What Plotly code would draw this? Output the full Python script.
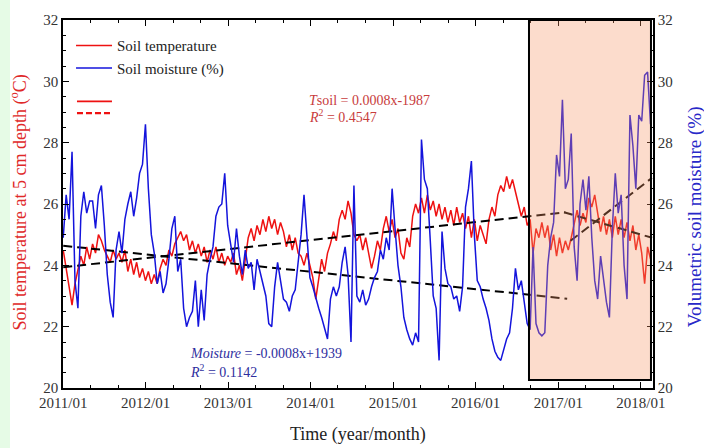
import pandas as pd
import plotly.graph_objects as go

# ---- data -------------------------------------------------------------
START = "2011-01-01"
STEP_DAYS = 13

# soil temperature at 5 cm depth (deg C), one value every STEP_DAYS days
soil_temp = [
    24.5, 23.9, 23.3, 22.7, 23.4, 23.9, 24.3, 24.0, 24.6, 24.2,
    24.7, 24.4, 25.0, 24.8, 24.5, 24.3, 24.1, 24.5, 24.2, 24.4,
    24.1, 24.5, 23.8, 24.2, 23.7, 24.1, 23.6, 23.9, 23.5, 23.8,
    23.4, 23.7, 23.4, 23.9, 24.2, 24.0, 24.5, 24.3, 24.7, 24.9,
    25.1, 24.8, 25.0, 24.5, 24.8, 24.4, 24.7, 24.3, 24.6, 24.1,
    24.5, 24.2, 24.6, 24.1, 24.4, 24.0, 24.3, 24.1, 24.4, 23.7,
    24.0, 23.5, 24.2, 24.9, 25.2, 24.8, 25.3, 25.0, 25.5, 25.1,
    25.6, 25.2, 25.5, 25.0, 25.4, 25.1, 24.6, 25.0, 24.5, 24.9,
    24.4, 24.3, 24.0, 24.4, 24.0, 23.6, 22.9, 23.5, 24.2, 23.8,
    24.4, 24.7, 25.1, 24.8, 25.5, 25.8, 25.5, 26.1, 25.7, 25.0,
    24.8, 25.0, 24.5, 24.9, 24.4, 23.9, 24.3, 24.8, 24.5, 25.2,
    25.6, 25.1, 25.5, 24.9, 25.2, 24.4, 24.2, 24.9, 24.6, 25.6,
    26.0, 25.7, 26.2, 25.7, 26.3, 25.8, 26.1, 25.6, 26.0, 25.5,
    25.9, 25.4, 25.8, 25.3, 25.9, 25.4, 25.7, 25.2, 25.6, 24.9,
    25.5, 24.8, 25.3, 25.0, 24.7, 25.5, 25.9, 25.6, 26.3, 26.6,
    26.4, 26.9, 26.5, 26.8, 26.4, 26.1, 25.6, 25.9, 25.3, 25.5,
    24.4, 25.2, 24.9, 25.4, 24.9, 25.3, 24.5, 25.0, 24.3, 24.9,
    24.4, 24.8, 24.5, 24.9, 25.3, 25.8, 25.3, 25.7, 25.4, 26.2,
    25.9, 26.3, 25.7, 25.1, 25.6, 25.0, 25.5, 24.9, 25.6, 25.0,
    25.5, 24.9, 25.4, 24.8, 25.3, 24.5, 25.0, 24.4, 23.4, 24.6,
    24.2,
]

# volumetric soil moisture (%), same sampling
soil_moist = [
    24.9, 26.3, 25.5, 27.7, 23.5, 22.6, 25.6, 26.4, 25.7, 26.1,
    26.1, 25.2, 26.3, 26.6, 25.3, 23.7, 22.8, 22.3, 24.5, 25.1,
    24.4, 25.5, 26.0, 26.4, 25.6, 26.2, 27.0, 27.3, 28.6, 26.5,
    25.0, 24.4, 23.4, 23.8, 23.1, 23.4, 24.2, 25.2, 25.6, 23.8,
    24.2, 22.6, 22.0, 22.3, 22.5, 23.5, 22.0, 23.2, 22.2, 23.7,
    24.2, 24.6, 25.6, 25.9, 26.0, 27.0, 25.3, 24.7, 24.1, 25.2,
    24.3, 23.7, 24.5, 23.9, 24.1, 23.2, 24.2, 23.8, 23.4, 23.0,
    22.1, 22.0, 23.3, 24.1, 23.5, 22.9, 22.8, 22.5, 23.0, 23.2,
    24.1, 25.0, 26.3, 24.8, 23.6, 23.3, 22.9, 22.6, 22.3, 21.9,
    21.6, 22.9, 23.3, 23.0, 23.3, 24.1, 24.6, 23.7, 21.5, 26.6,
    23.0, 22.8, 23.2, 22.7, 22.9, 23.3, 23.6, 23.8, 24.5, 24.2,
    24.9, 24.5, 26.5, 25.2, 24.0, 23.3, 22.3, 21.9, 21.6, 21.4,
    21.8, 21.5, 28.1, 26.8, 26.5, 24.8, 23.0, 22.6, 20.9, 25.1,
    23.9, 23.4, 23.3, 22.9, 23.0, 22.5, 23.3, 25.9, 26.5, 27.4,
    25.0, 23.5, 23.3, 22.9, 22.6, 22.2, 21.6, 21.2, 21.0, 20.9,
    21.3, 21.6, 21.8, 22.6, 23.9, 23.2, 23.5, 22.7, 22.1, 21.9,
    24.6, 22.1, 21.8, 21.7, 21.8, 24.0, 24.9, 25.4, 27.6, 26.9,
    29.4, 26.5, 26.8, 28.3, 24.6, 23.5, 26.0, 26.8, 25.8, 26.9,
    24.9, 23.5, 22.9, 24.3, 23.6, 22.8, 22.3, 25.2, 27.0, 25.7,
    26.3, 24.0, 22.9, 28.9, 27.9, 26.5, 28.9, 28.7, 30.2, 30.3,
    28.6,
]

# linear fits (end points)
tsoil_fit_x = ["2011-01-01", "2017-02-01"]
tsoil_fit_y = [23.94, 25.73]
tsoil_fit2_x = ["2017-01-26", "2018-02-20"]
tsoil_fit2_y = [25.73, 24.90]
moist_fit_x = ["2011-01-01", "2017-02-09"]
moist_fit_y = [24.64, 22.91]
moist_fit2_x = ["2017-02-24", "2018-02-19"]
moist_fit2_y = [24.80, 26.85]

# highlighted period
period_start, period_end = "2016-08-24", "2018-02-15"
period_bottom = 20.26

x_range = ["2010-12-31", "2018-02-24"]
y_range = [20, 32]

# ---- styling ----------------------------------------------------------
FONT = "Liberation Serif"
RED = "#ee1111"
BLUE = "#1414dc"

dates = pd.date_range(START, periods=len(soil_temp), freq=f"{STEP_DAYS}D")

fig = go.Figure()
fig.add_trace(go.Scatter(
    x=dates, y=soil_temp, mode="lines", name="Soil temperature",
    line=dict(color=RED, width=1.5),
))
fig.add_trace(go.Scatter(
    x=dates, y=soil_moist, mode="lines", name="Soil moisture (%)",
    line=dict(color=BLUE, width=1.5), yaxis="y2",
))
for fx, fy in [(tsoil_fit_x, tsoil_fit_y), (tsoil_fit2_x, tsoil_fit2_y),
               (moist_fit_x, moist_fit_y), (moist_fit2_x, moist_fit2_y)]:
    fig.add_trace(go.Scatter(
        x=fx, y=fy, mode="lines", showlegend=False, hoverinfo="skip",
        line=dict(color="black", width=2, dash="9px,5px"),
    ))

tick_font = dict(family=FONT, size=15, color="#333333")
axis_common = dict(
    showline=True, linecolor="black", linewidth=1.5,
    ticks="inside", ticklen=6, tickwidth=1.2, tickcolor="black",
    showgrid=False, zeroline=False, tickfont=tick_font,
)

fig.update_layout(
    width=704, height=448,
    margin=dict(l=63, r=51, t=13, b=60),
    paper_bgcolor="white", plot_bgcolor="white",
    font=dict(family=FONT, color="#333333"),
    xaxis=dict(
        type="date", range=x_range, dtick="M12", tick0="2011-01-01",
        tickformat="%Y/%m", mirror="ticks",
        minor=dict(dtick="M4", ticks="inside", ticklen=3.5, tickcolor="black"),
        **axis_common,
    ),
    yaxis=dict(
        range=y_range, dtick=2, mirror=True,
        minor=dict(dtick=0.5, ticks="inside", ticklen=3.5, tickcolor="black"),
        **axis_common,
    ),
    yaxis2=dict(
        range=y_range, dtick=2, overlaying="y", side="right",
        minor=dict(dtick=0.5, ticks="inside", ticklen=3.5, tickcolor="black"),
        **axis_common,
    ),
    legend=dict(
        x=0.0136, y=0.975, xanchor="left", yanchor="top",
        bgcolor="rgba(0,0,0,0)", borderwidth=0,
        font=dict(family=FONT, size=15, color="#222222"),
        itemwidth=36, tracegroupgap=0,
    ),
    showlegend=True,
)

# highlighted period, translucent over the curves
fig.add_shape(
    type="rect", xref="x", yref="y",
    x0=period_start, x1=period_end, y0=period_bottom, y1=y_range[1],
    fillcolor="rgba(246,150,100,0.33)", line=dict(color="black", width=2),
    layer="above",
)
# pale green strip at the page's left edge
fig.add_shape(
    type="rect", xref="paper", yref="paper",
    x0=-0.2, x1=-0.0898, y0=-0.3, y1=1.1,
    fillcolor="#e6fbe6", line=dict(width=0), layer="below",
)
# fit-line key (solid / dashed)
fig.add_shape(type="line", xref="paper", yref="paper",
              x0=0.0237, x1=0.083, y0=0.7787, y1=0.7787,
              line=dict(color=RED, width=1.8))
fig.add_shape(type="line", xref="paper", yref="paper",
              x0=0.0237, x1=0.083, y0=0.7467, y1=0.7467,
              line=dict(color=RED, width=2.2, dash="6px,3px"))

notes = [
    dict(x=0.4136, y=0.781, text="<i>T</i>soil = 0.0008x-1987", color="#c83c3c"),
    dict(x=0.4136, y=0.7387, text="<i>R</i><sup>2</sup> = 0.4547", color="#c83c3c"),
    dict(x=0.2119, y=0.0933, text="<i>Moisture</i> = -0.0008x+1939", color="#2e2e9e"),
    dict(x=0.2119, y=0.0453, text="<i>R</i><sup>2</sup> = 0.1142", color="#2e2e9e"),
]
for n in notes:
    fig.add_annotation(
        x=n["x"], y=n["y"], xref="paper", yref="paper", text=n["text"],
        showarrow=False, xanchor="left", yanchor="middle",
        font=dict(family=FONT, size=14, color=n["color"]),
    )

# axis titles
fig.add_annotation(
    x=-0.0746, y=0.504, xref="paper", yref="paper", textangle=-90,
    text="Soil temperature at 5 cm depth (<sup>o</sup>C)", showarrow=False,
    xanchor="center", yanchor="middle",
    font=dict(family=FONT, size=18, color="#e02828"),
)
fig.add_annotation(
    x=1.0712, y=0.464, xref="paper", yref="paper", textangle=-90,
    text="Volumetric soil moisture (%)", showarrow=False,
    xanchor="center", yanchor="middle",
    font=dict(family=FONT, size=19, color="#2828c8"),
)
fig.add_annotation(
    x=0.5, y=-0.1253, xref="paper", yref="paper",
    text="Time (year/month)", showarrow=False,
    xanchor="center", yanchor="middle",
    font=dict(family=FONT, size=18, color="#222222"),
)

fig.write_html("out.html")
